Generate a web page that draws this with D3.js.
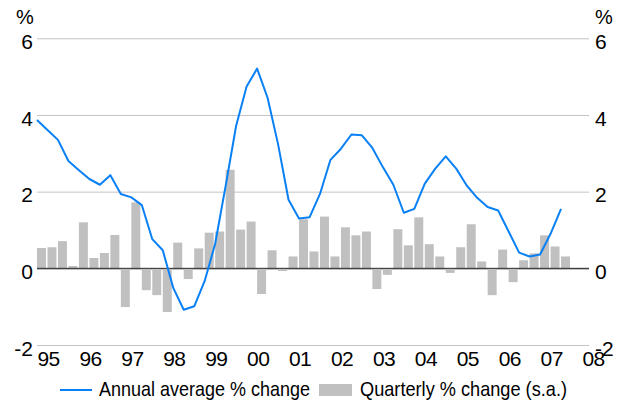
<!DOCTYPE html>
<html>
<head>
<meta charset="utf-8">
<script src="https://cdn.jsdelivr.net/npm/d3@7"></script>
<style>
  body { margin: 0; background: #fff; }
  svg text { font-family: "Liberation Sans", Arial, sans-serif; fill: #000; }
</style>
</head>
<body>
<div id="chart"></div>
<script>
// -------------------------------------------------------------------------
// Data (quarterly, 1995 Q1 .. 2007 Q3)

const yearLabels = ['95', '96', '97', '98', '99', '00', '01', '02', '03', '04', '05', '06', '07', '08'];
const yTicks = [-2, 0, 2, 4, 6];

// Quarterly % change (s.a.)
const quarterlyChange = [
  0.53, 0.55, 0.71, 0.06, 1.20, 0.27, 0.40, 0.87,
  -1.01, 1.72, -0.57, -0.70, -1.14, 0.67, -0.28, 0.52,
  0.93, 0.96, 2.57, 1.01, 1.22, -0.67, 0.47, -0.07,
  0.31, 1.28, 0.44, 1.35, 0.31, 1.07, 0.86, 0.96,
  -0.54, -0.17, 1.02, 0.60, 1.33, 0.63, 0.31, -0.12,
  0.55, 1.15, 0.18, -0.70, 0.49, -0.36, 0.21, 0.39,
  0.86, 0.57, 0.31
];

// Annual average % change
const annualAverage = [
  3.87, 3.61, 3.35, 2.80, 2.56, 2.33, 2.18, 2.43,
  1.94, 1.85, 1.65, 0.76, 0.47, -0.51, -1.08, -0.99,
  -0.33, 0.64, 2.15, 3.72, 4.74, 5.21, 4.45, 3.24,
  1.79, 1.30, 1.33, 1.94, 2.83, 3.12, 3.49, 3.47,
  3.14, 2.64, 2.18, 1.45, 1.55, 2.21, 2.60, 2.92,
  2.60, 2.16, 1.84, 1.60, 1.51, 0.96, 0.41, 0.31,
  0.36, 0.90, 1.55
];

const legendLabels = ['Annual average % change', 'Quarterly % change (s.a.)'];

// -------------------------------------------------------------------------
// Layout

const width = 626;
const height = 407;
const plotLeft = 37;
const plotRight = 589;
const lineColor = '#0a80f5';
const barColor = '#c0c0c0';

const svg = d3.select('#chart').append('svg')
  .attr('width', width)
  .attr('height', height);

const x = d3.scaleLinear()
  .domain([0, yearLabels.length * 4 - 4])
  .range([plotLeft, 582]);

const y = d3.scaleLinear()
  .domain([-2, 6])
  .range([345, 38.3]);

// plain hyphen for negatives, as in the source chart
const fmt = d => String(d);

// -------------------------------------------------------------------------
// Grid + axes

const leftAxis = svg.append('g')
  .attr('transform', `translate(${plotLeft},0)`)
  .call(d3.axisLeft(y).tickValues(yTicks).tickFormat(fmt)
    .tickSize(-(plotRight - plotLeft)).tickPadding(4));
leftAxis.select('.domain').remove();
leftAxis.selectAll('.tick line')
  .attr('stroke', d => d === 0 ? '#333' : '#c4c4c4')
  .attr('stroke-width', 1);
leftAxis.selectAll('.tick text')
  .attr('font-size', 21)
  .attr('dy', '0.48em');

const rightAxis = svg.append('g')
  .attr('transform', `translate(${plotRight},0)`)
  .call(d3.axisRight(y).tickValues(yTicks).tickFormat(fmt)
    .tickSize(0).tickPadding(6));
rightAxis.select('.domain').remove();
rightAxis.selectAll('.tick text')
  .attr('font-size', 21)
  .attr('dy', '0.48em');

const xAxis = svg.append('g')
  .attr('transform', `translate(0,${y(-2)})`)
  .call(d3.axisBottom(x)
    .tickValues(yearLabels.map((d, i) => i * 4))
    .tickFormat((d, i) => yearLabels[i])
    .tickSize(0).tickPadding(6));
xAxis.select('.domain').remove();
xAxis.selectAll('.tick text')
  .attr('font-size', 21)
  .attr('letter-spacing', -0.6)
  .attr('text-anchor', 'start');

svg.append('text').attr('x', 16).attr('y', 24).attr('font-size', 20).text('%');
svg.append('text').attr('x', 595).attr('y', 24).attr('font-size', 20).text('%');

// -------------------------------------------------------------------------
// Bars

const plot = svg.append('g');

plot.selectAll('.bar')
  .data(quarterlyChange)
  .enter().append('rect')
  .attr('class', 'bar')
  .attr('x', (d, i) => x(i))
  .attr('width', (d, i) => x(i + 1) - x(i) - 1.5)
  .attr('y', d => Math.min(y(d), y(0)))
  .attr('height', d => Math.abs(y(d) - y(0)))
  .attr('fill', barColor);

// redraw the zero line over the bars
plot.append('line')
  .attr('x1', plotLeft).attr('x2', plotRight)
  .attr('y1', y(0)).attr('y2', y(0))
  .attr('stroke', '#333').attr('stroke-width', 1);

// -------------------------------------------------------------------------
// Line

const line = d3.line()
  .x((d, i) => x(i))
  .y(d => y(d));

plot.append('path')
  .datum(annualAverage)
  .attr('d', line)
  .attr('fill', 'none')
  .attr('stroke', lineColor)
  .attr('stroke-width', 2)
  .attr('stroke-linejoin', 'round');

// -------------------------------------------------------------------------
// Legend

const legend = svg.append('g');
legend.append('line')
  .attr('x1', 60).attr('x2', 92).attr('y1', 390).attr('y2', 390)
  .attr('stroke', lineColor).attr('stroke-width', 2);
legend.append('text')
  .attr('x', 99).attr('y', 396).attr('font-size', 21)
  .attr('textLength', 211).attr('lengthAdjust', 'spacingAndGlyphs')
  .text(legendLabels[0]);
legend.append('rect')
  .attr('x', 319).attr('y', 384).attr('width', 33).attr('height', 12)
  .attr('fill', barColor);
legend.append('text')
  .attr('x', 360).attr('y', 396).attr('font-size', 21)
  .attr('textLength', 207).attr('lengthAdjust', 'spacingAndGlyphs')
  .text(legendLabels[1]);
</script>
</body>
</html>
